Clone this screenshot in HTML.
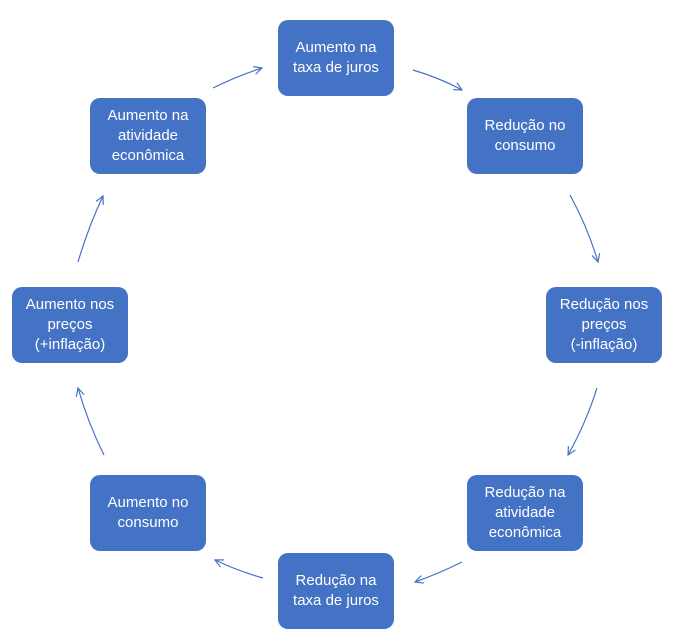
<!DOCTYPE html>
<html><head><meta charset="utf-8"><style>
body{margin:0;width:681px;height:644px;background:#fff;position:relative;overflow:hidden}
.b{position:absolute;width:116px;height:76px;background:#4472C4;border-radius:10px;color:#fff;font-family:"Liberation Sans",sans-serif;font-size:15px;line-height:20px;display:flex;align-items:center;justify-content:center;text-align:center}
svg{position:absolute;left:0;top:0}
</style></head><body>
<svg width="681" height="644" fill="none" stroke="#4472C4" stroke-width="1.2">
<defs><marker id="a" markerWidth="10" markerHeight="10" refX="9" refY="5" orient="auto" markerUnits="userSpaceOnUse"><path d="M1,1 L9,5 L1,9"/></marker></defs>
<path d="M413,70 Q440,78 462,90" marker-end="url(#a)"/>
<path d="M570,195 Q588,228 598,262" marker-end="url(#a)"/>
<path d="M597,388 Q586,423 568,455" marker-end="url(#a)"/>
<path d="M462,562 Q440,573 415,582" marker-end="url(#a)"/>
<path d="M263,578 Q238,571 215,560" marker-end="url(#a)"/>
<path d="M104,455 Q88,423 78,388" marker-end="url(#a)"/>
<path d="M78,262 Q88,228 103,196" marker-end="url(#a)"/>
<path d="M213,88 Q237,76 262,68" marker-end="url(#a)"/>
</svg>
<div class="b" style="left:278px;top:20px">Aumento na<br>taxa de juros</div>
<div class="b" style="left:467px;top:98px">Redução no<br>consumo</div>
<div class="b" style="left:546px;top:287px">Redução nos<br>preços<br>(-inflação)</div>
<div class="b" style="left:467px;top:475px">Redução na<br>atividade<br>econômica</div>
<div class="b" style="left:278px;top:553px">Redução na<br>taxa de juros</div>
<div class="b" style="left:90px;top:475px">Aumento no<br>consumo</div>
<div class="b" style="left:12px;top:287px">Aumento nos<br>preços<br>(+inflação)</div>
<div class="b" style="left:90px;top:98px">Aumento na<br>atividade<br>econômica</div>
</body></html>
